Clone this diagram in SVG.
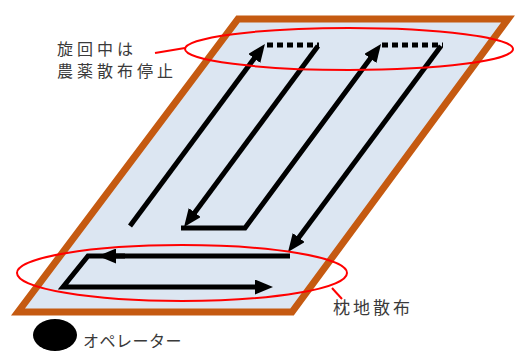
<svg xmlns="http://www.w3.org/2000/svg" width="515" height="352" viewBox="0 0 515 352">
<defs>
<style>
.field{fill:#DCE6F2;stroke:#C55A11;stroke-width:7;stroke-linejoin:miter}
.run{fill:none;stroke:#000;stroke-width:5;stroke-linejoin:miter}
.dot{fill:none;stroke:#000;stroke-width:5;stroke-dasharray:6 4}
.ring{fill:none;stroke:#FF0000;stroke-width:2}
.lbl{font-family:"Noto Sans CJK JP","Noto Sans CJK SC",sans-serif;fill:#3A3A3A}
</style>
<marker id="ah" viewBox="0 0 18 15" refX="8" refY="7.5" markerWidth="18" markerHeight="15" markerUnits="userSpaceOnUse" orient="auto">
<path d="M0,0 L18,7.5 L0,15 z" fill="#000"/>
</marker>
</defs>
<rect width="515" height="352" fill="#FFFFFF"/>
<g id="field">
<polygon class="field" points="238,19 508,19 292,312 18,312"/>
</g>
<g id="connectors">
<path class="run" d="M130,226 L259,52" marker-end="url(#ah)"/>
<path class="dot" d="M267,45 H319"/>
<path class="run" d="M318,46 L190,219" marker-end="url(#ah)"/>
<path class="run" d="M181,228 H245 L375.1,52" marker-end="url(#ah)"/>
<path class="dot" d="M382,45 H443"/>
<path class="run" d="M441,46 L294,244" marker-end="url(#ah)"/>
<path class="run" d="M290,256 H88 L63,287 H263" marker-end="url(#ah)"/>
<path class="run" d="M125,256 H108" marker-end="url(#ah)"/>
</g>
<g id="turn-zone">
<ellipse class="ring" cx="349" cy="49" rx="164" ry="21"/>
<path class="ring" d="M155,53 L185,48"/>
<text class="lbl" x="57" y="55" font-size="16" letter-spacing="4">旋回中は</text>
<text class="lbl" x="57" y="77" font-size="16" letter-spacing="4">農薬散布停止</text>
</g>
<g id="headland">
<ellipse class="ring" cx="182" cy="273" rx="165" ry="28"/>
<path class="ring" d="M332,288 L342,299"/>
<text class="lbl" x="333" y="314" font-size="17" letter-spacing="3">枕地散布</text>
</g>
<g id="operator">
<ellipse cx="55" cy="335" rx="22" ry="16" fill="#000"/>
<text class="lbl" x="83" y="347" font-size="16" letter-spacing="0.5">オペレーター</text>
</g>
</svg>
